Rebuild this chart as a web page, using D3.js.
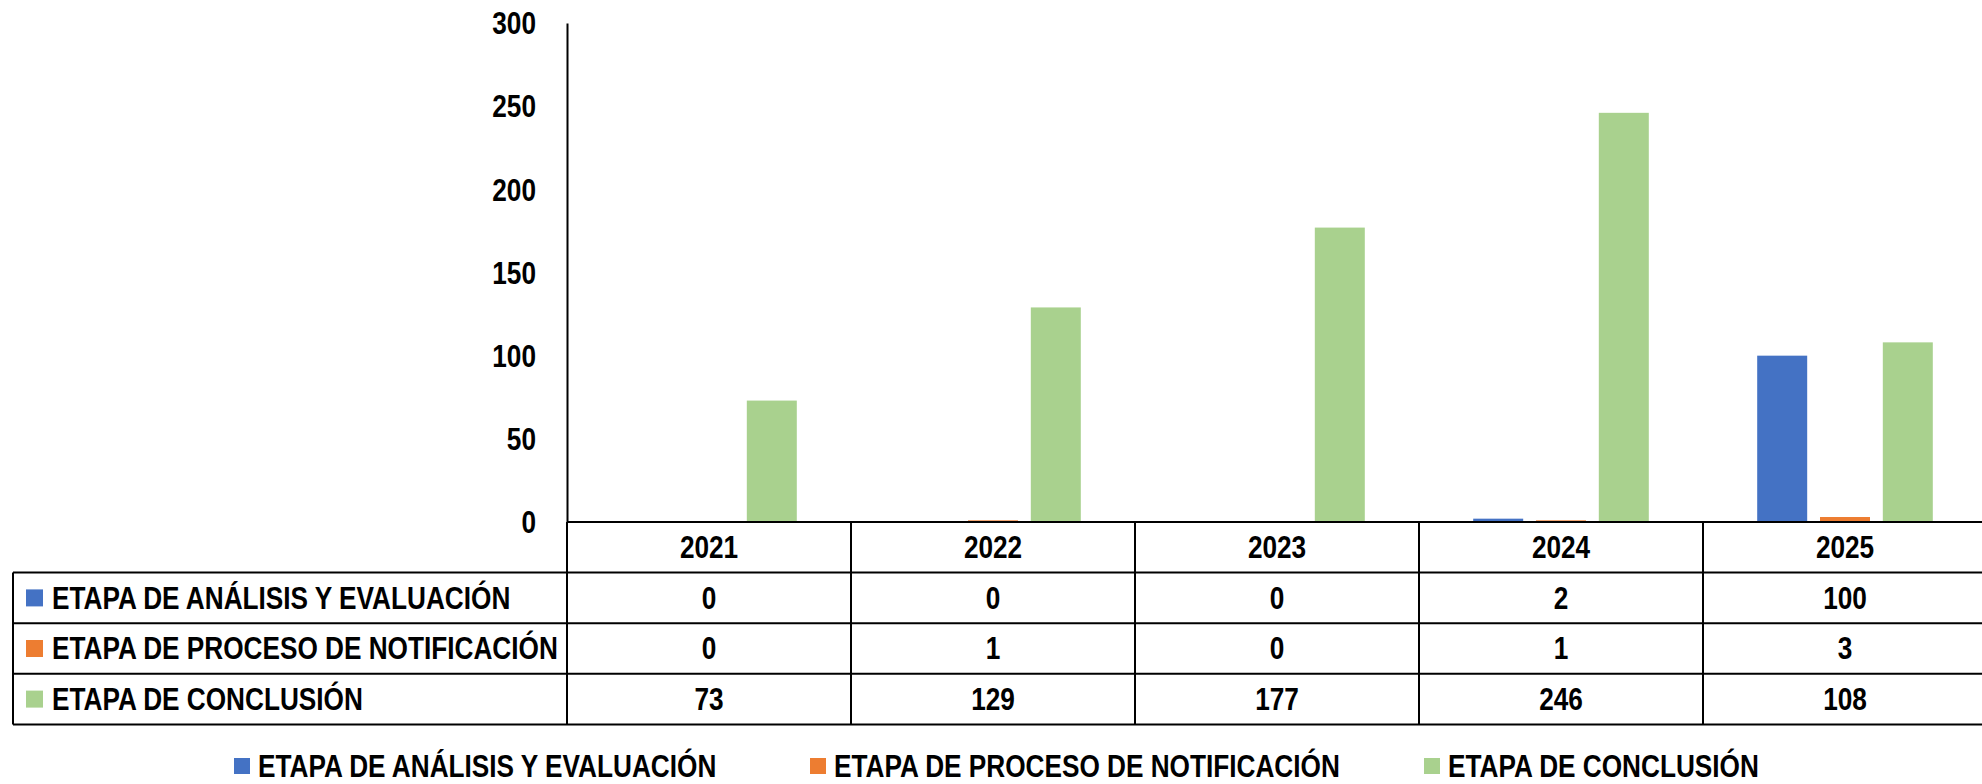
<!DOCTYPE html>
<html>
<head>
<meta charset="utf-8">
<script src="https://cdn.jsdelivr.net/npm/d3@7/dist/d3.min.js"></script>
<style>
  html, body { margin: 0; padding: 0; background: #fff; }
  svg { display: block; }
  text { font-family: "Liberation Sans", Arial, sans-serif; font-weight: bold; fill: #000; }
</style>
</head>
<body>
<svg id="chart" width="1982" height="784"></svg>
<script>
const years = ["2021", "2022", "2023", "2024", "2025"];
const seriesNames = ["ETAPA DE ANÁLISIS Y EVALUACIÓN", "ETAPA DE PROCESO DE NOTIFICACIÓN", "ETAPA DE CONCLUSIÓN"];
const analisis = [0, 0, 0, 2, 100];
const notificacion = [0, 1, 0, 1, 3];
const conclusion = [73, 129, 177, 246, 108];
const seriesColors = ["#4472C4", "#ED7D31", "#A9D18E"];
const yTicks = [0, 50, 100, 150, 200, 250, 300];

const seriesValues = [analisis, notificacion, conclusion];

const svg = d3.select("#chart");
const fontSize = 31;
const squeeze = 0.845;

// narrow text helper (condensed look like Calibri)
function addText(parent, x, y, str, anchor) {
  const g = parent.append("g").attr("transform", `translate(${x},${y}) scale(${squeeze},1)`);
  g.append("text")
    .attr("x", 0).attr("y", 0)
    .attr("text-anchor", anchor || "start")
    .attr("dominant-baseline", "central")
    .attr("font-size", fontSize)
    .text(str);
  return g;
}

const plotLeft = 567, colW = 284;
const x = d3.scaleBand().domain(years).range([plotLeft, plotLeft + colW * years.length]).padding(0);
const x1 = d3.scaleBand().domain(seriesNames).range([0, x.bandwidth()]).paddingInner(0.204).paddingOuter(0.863);
const y = d3.scaleLinear().domain([0, 300]).range([522, 23]);

// bars
seriesNames.forEach((s, si) => {
  svg.append("g").selectAll("rect")
    .data(years.map((yr, i) => ({ yr, v: seriesValues[si][i] })))
    .join("rect")
    .attr("x", d => x(d.yr) + x1(s))
    .attr("width", x1.bandwidth())
    .attr("y", d => y(d.v))
    .attr("height", d => y(0) - y(d.v))
    .attr("fill", seriesColors[si]);
});

// y axis
const yAxis = svg.append("g")
  .attr("transform", `translate(${plotLeft},0)`)
  .call(d3.axisLeft(y).tickValues(yTicks).tickSize(0).tickSizeOuter(0).tickFormat(""));
yAxis.select(".domain").attr("stroke", "#000").attr("stroke-width", 2);
yAxis.selectAll(".tick").each(function(d) {
  addText(d3.select(this), -31, 0, String(d), "end");
});

// data table
const rowTop = y(0);
const rowH = 50.6;
const tableLeft = 13;
const rightEdge = 1982;
const tbl = svg.append("g").attr("stroke", "#000").attr("stroke-width", 2);
tbl.append("line").attr("x1", plotLeft).attr("x2", rightEdge).attr("y1", rowTop).attr("y2", rowTop);
for (let r = 1; r <= seriesNames.length + 1; r++) {
  const yy = rowTop + r * rowH;
  tbl.append("line").attr("x1", tableLeft).attr("x2", rightEdge).attr("y1", yy).attr("y2", yy);
}
tbl.append("line").attr("x1", tableLeft).attr("x2", tableLeft)
  .attr("y1", rowTop + rowH).attr("y2", rowTop + rowH * (seriesNames.length + 1));
years.forEach(yr => {
  tbl.append("line").attr("x1", x(yr)).attr("x2", x(yr))
    .attr("y1", rowTop).attr("y2", rowTop + rowH * (seriesNames.length + 1));
});

// header years
const header = svg.append("g");
years.forEach(yr => addText(header, x(yr) + x.bandwidth() / 2, rowTop + rowH / 2, yr, "middle"));

// rows
const rows = svg.append("g");
seriesNames.forEach((s, si) => {
  const cy = rowTop + rowH * (si + 1) + rowH / 2;
  rows.append("rect").attr("x", 26).attr("y", cy - 8.5).attr("width", 17).attr("height", 17).attr("fill", seriesColors[si]);
  addText(rows, 52, cy, s, "start");
  years.forEach((yr, i) => addText(rows, x(yr) + x.bandwidth() / 2, cy, String(seriesValues[si][i]), "middle"));
});

// legend
const legend = svg.append("g");
const legendX = [234, 810, 1424];
const legendY = 766;
seriesNames.forEach((s, si) => {
  legend.append("rect").attr("x", legendX[si]).attr("y", legendY - 8).attr("width", 16).attr("height", 16).attr("fill", seriesColors[si]);
  addText(legend, legendX[si] + 24, legendY, s, "start");
});
</script>
</body>
</html>
